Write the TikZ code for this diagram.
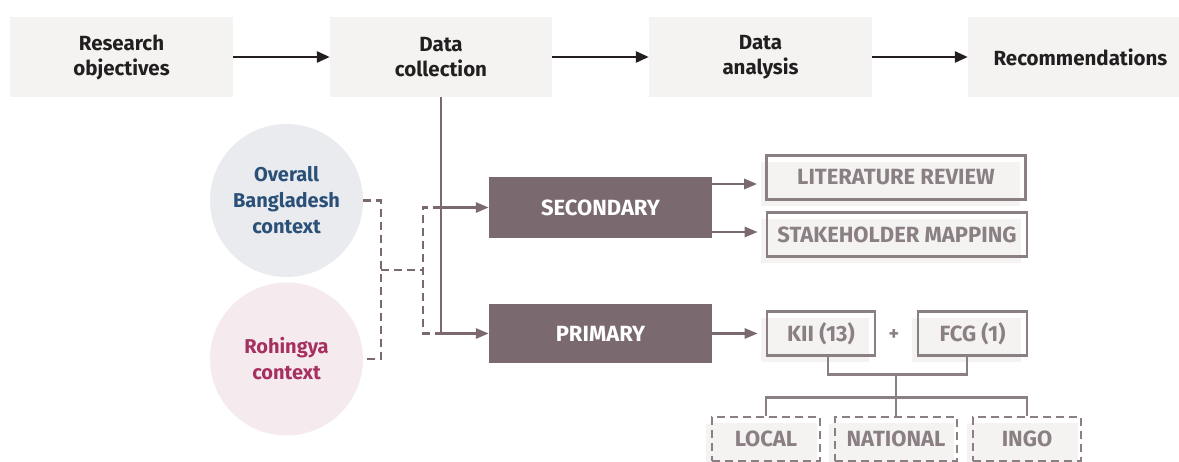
\documentclass[tikz,border=0pt]{standalone}
\usepackage{fontspec}
\setmainfont{Fira Sans}
\usepackage{tikz}
\usetikzlibrary{arrows.meta,shadows,calc}
\definecolor{ink}{HTML}{231F20}
\definecolor{mauve}{HTML}{7A6A6F}
\definecolor{greytext}{HTML}{8A7F83}
\definecolor{paper}{HTML}{F4F3F1}
\definecolor{navy}{HTML}{2A5078}
\definecolor{navyfill}{HTML}{E9EBEF}
\definecolor{berry}{HTML}{A6305F}
\definecolor{berryfill}{HTML}{F5EBEF}

\begin{document}
\begin{tikzpicture}[x=1pt,y=-1pt,
    stagebox/.style={fill=paper, inner sep=0pt, minimum height=80pt, align=center,
      text=ink, font=\fontsize{20.5}{25}\selectfont\bfseries},
    typebox/.style={fill=mauve, inner sep=0pt, minimum width=223pt, text=white,
      font=\fontsize{22}{24}\selectfont\bfseries},
    methodbox/.style={draw=greytext, line width=2.6pt, inner sep=0pt, minimum height=44pt,
      text=greytext, font=\fontsize{22}{24}\selectfont\bfseries,
      drop shadow={shadow xshift=-6pt, shadow yshift=-7pt, opacity=1, fill=paper}},
    groupbox/.style={methodbox, dashed, dash pattern=on 8pt off 5pt,
      drop shadow={shadow xshift=-3pt, shadow yshift=-6pt, opacity=1, fill=paper}},
    context/.style={circle, inner sep=0pt, minimum size=153pt, align=center,
      font=\fontsize{20}{26}\selectfont\bfseries},
    stageline/.style={draw=ink, line width=2.6pt, -{Triangle[length=13pt,width=11pt]}},
    flow/.style={draw=mauve, line width=2.6pt, -{Triangle[length=13pt,width=10pt]}},
    link/.style={draw=greytext, line width=2.6pt},
    ctxline/.style={draw=mauve, line width=2.6pt, dash pattern=on 8pt off 5pt}]
  \clip (0,0) rectangle (1179,462);

  % stages of the study
  \node[stagebox, minimum width=223pt] (research) at (121.5,57) {Research\\objectives};
  \node[stagebox, minimum width=222pt] (collection) at (441,57) {Data\\collection};
  \node[stagebox, minimum width=223pt] (analysis) at (760.5,57) {Data\\analysis};
  \node[stagebox, minimum width=225pt] (recommend) at (1080.5,57) {Recommendations};
  \draw[stageline] (research) -- (collection);
  \draw[stageline] (collection) -- (analysis);
  \draw[stageline] (analysis) -- (recommend);

  % context circles
  \node[context, fill=navyfill, text=navy] (overall) at (286.5,200.5) {Overall\\Bangladesh\\context};
  \node[context, fill=berryfill, text=berry] (rohingya) at (286.5,359) {Rohingya\\context};

  % data types
  \node[typebox, minimum height=61pt] (secondary) at (600.5,207.5) {SECONDARY};
  \node[typebox, minimum height=59pt] (primary) at (600.5,333.5) {PRIMARY};

  \coordinate (ctxjoin) at (381,270);
  \draw[ctxline] (overall.east) -- (overall.east -| ctxjoin) |- (rohingya.east);
  \draw[ctxline] (ctxjoin) -- ++(42,0);
  \draw[ctxline] (collection.south |- secondary.west) -- ++(-18,0) |- (collection.south |- primary.west);
  \draw[flow] (collection.south) |- (primary.west);
  \draw[flow] (collection.south |- secondary.west) -- (secondary.west);

  % methods
  \node[methodbox, minimum width=259pt] (literature) at (896,177.5) {LITERATURE REVIEW};
  \node[methodbox, minimum width=260pt] (stakeholder) at (897,234.5) {STAKEHOLDER MAPPING};
  \node[methodbox, minimum width=108pt] (kii) at (821,333.5) {KII (13)};
  \node[text=greytext, font=\fontsize{20}{24}\selectfont\bfseries] (plus) at (894,335) {+};
  \node[methodbox, minimum width=109pt] (fcg) at (972.5,333.5) {FCG (1)};
  \draw[flow, shorten >=8pt] ([yshift=-6.5pt]literature.west -| secondary.east) -- ([yshift=-6.5pt]literature.west);
  \draw[flow, shorten >=8pt] ([yshift=2.5pt]stakeholder.west -| secondary.east) -- ([yshift=2.5pt]stakeholder.west);
  \draw[flow, shorten >=8pt] (primary.east) -- (kii.west);

  % respondent groups
  \node[groupbox, minimum width=108pt] (local) at (766,439) {LOCAL};
  \node[groupbox, minimum width=122pt] (national) at (896,439) {NATIONAL};
  \node[groupbox, minimum width=108pt] (ingo) at (1027,439) {INGO};
  \draw[link] ([xshift=7pt]kii.south) -- ++(0,18) coordinate (kiijoin) -| ([xshift=-5.5pt]fcg.south);
  \draw[link] (national.north) -- (national.north |- kiijoin);
  \draw[link] (local.north) -- ++(0,-18) -| (ingo.north);
\end{tikzpicture}
\end{document}
